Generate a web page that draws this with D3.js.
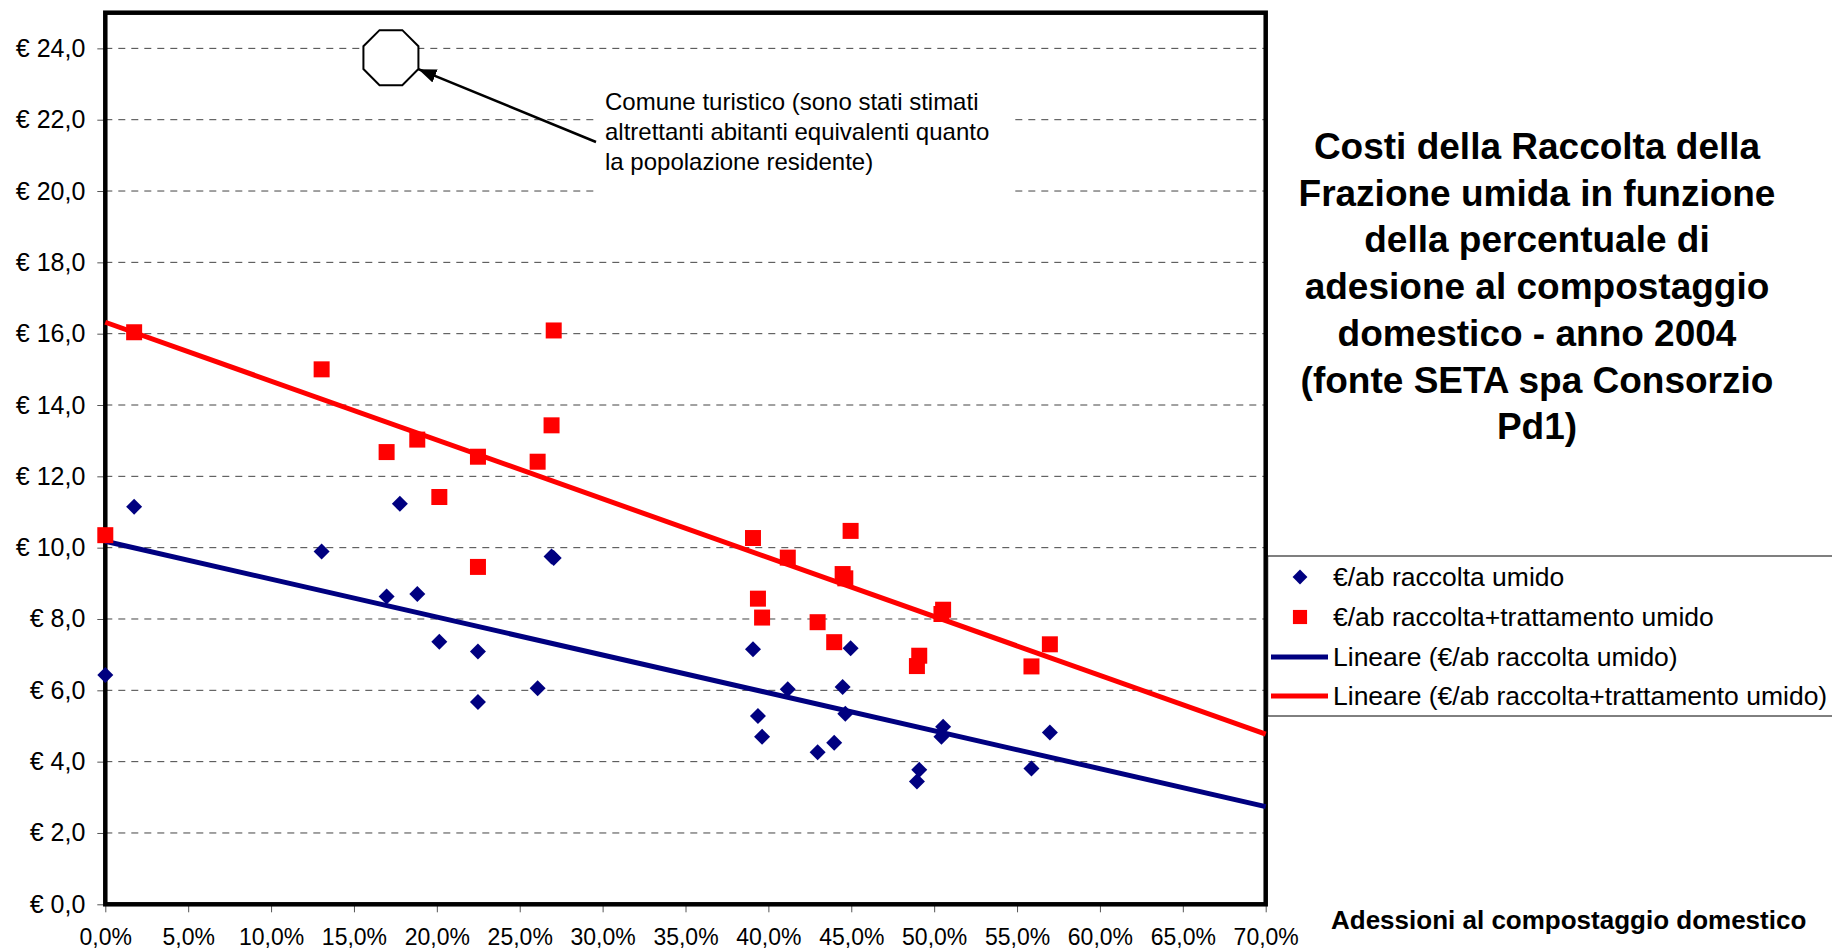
<!DOCTYPE html>
<meta charset="utf-8">
<style>
body { margin: 0; background: #fff; }
svg { display: block; font-family: "Liberation Sans", Arial, sans-serif; }
</style>
<svg width="1832" height="950"></svg>
<script src="https://d3js.org/d3.v7.min.js"></script>
<script>

// adesione al compostaggio domestico (quota) per comune
var adesioni = [0.000, 0.0174, 0.1305, 0.1697, 0.1777, 0.1882, 0.2015, 0.2248, 0.2248, 0.2608,
                0.2692, 0.2705, 0.3907, 0.3937, 0.3962, 0.4117, 0.4297, 0.4397, 0.4448, 0.4464,
                0.4496, 0.4896, 0.4910, 0.5044, 0.5054, 0.5587, 0.5698];

// €/ab raccolta umido
var raccolta = [6.43, 11.15, 9.89, 8.63, 11.23, 8.70, 7.36, 7.09, 5.67, 6.06,
                9.75, 9.71, 7.15, 5.28, 4.70, 6.03, 4.26, 4.53, 6.09, 5.34,
                7.18, 3.44, 3.77, 4.70, 4.98, 3.81, 4.82];

// €/ab raccolta+trattamento umido (comune turistico fuori scala)
var raccoltaTrattamento = [10.35, 16.04, 15.00, 12.68, null, 13.03, 11.42, 12.55, 9.46, 12.41,
                           13.43, 16.09, 10.27, 8.57, 8.04, 9.72, 7.91, 7.35, 9.26, 9.14,
                           10.47, 6.68, 6.97, 8.14, 8.26, 6.67, 7.29];

// linee di tendenza lineari: valore a 0% e a 70%
var trendX = [0, 0.7];
var trendRaccolta = [10.18, 2.74];
var trendTotale = [16.32, 4.77];

var xTicks = [0, 0.05, 0.10, 0.15, 0.20, 0.25, 0.30, 0.35, 0.40, 0.45, 0.50, 0.55, 0.60, 0.65, 0.70];
var yTicks = [0, 2, 4, 6, 8, 10, 12, 14, 16, 18, 20, 22, 24];

var titolo = ["Costi della Raccolta della", "Frazione umida in funzione", "della percentuale di",
              "adesione al compostaggio", "domestico - anno 2004", "(fonte SETA spa Consorzio", "Pd1)"];
var titoloAsseX = "Adessioni al compostaggio domestico";
var nota = ["Comune turistico (sono stati stimati", "altrettanti abitanti equivalenti quanto",
            "la popolazione residente)"];
var notaPunto = [0.1723, 23.74];

var legenda = ["€/ab raccolta umido", "€/ab raccolta+trattamento umido",
               "Lineare (€/ab raccolta umido)", "Lineare (€/ab raccolta+trattamento umido)"];

var blu = "#000080", rosso = "#ff0000";

var it = d3.formatLocale({decimal: ",", thousands: ".", grouping: [3], currency: ["€ ", ""]});

var plotLeft = 105.3, plotRight = 1265.7, plotTop = 12.7, plotBottom = 904.3;

var x = d3.scaleLinear().domain([0, 0.7]).range([plotLeft, plotRight]);
var y = d3.scaleLinear().domain([0, 25]).range([plotBottom, plotTop]);

var svg = d3.select("svg");

// griglia tratteggiata
svg.append("g")
  .selectAll("line")
  .data(yTicks.filter(function(d) { return d > 0; }))
  .enter().append("line")
    .attr("x1", plotLeft)
    .attr("x2", plotRight)
    .attr("y1", function(d) { return y(d); })
    .attr("y2", function(d) { return y(d); })
    .attr("stroke", "#444")
    .attr("stroke-width", 1)
    .attr("stroke-dasharray", "7,6");

// nota: box bianco sopra la griglia
var boxX = 596, boxY = 80;
svg.append("rect")
    .attr("x", boxX).attr("y", boxY)
    .attr("width", 418).attr("height", 120)
    .attr("fill", "#fff");

// assi
var yAxis = svg.append("g")
    .attr("transform", "translate(" + plotLeft + ",0)")
    .call(d3.axisLeft(y).tickValues(yTicks).tickSize(8).tickPadding(12)
      .tickFormat(function(d) { return it.format("$.1f")(d); }));

var xAxis = svg.append("g")
    .attr("transform", "translate(0," + plotBottom + ")")
    .call(d3.axisBottom(x).tickValues(xTicks).tickSize(8).tickPadding(16)
      .tickFormat(it.format(".1%")));

[yAxis, xAxis].forEach(function(a) {
  a.select(".domain").remove();
  a.selectAll(".tick line").attr("stroke", "#555");
  a.selectAll("text").attr("fill", "#000").attr("font-family", "Liberation Sans, Arial, sans-serif");
});
yAxis.selectAll("text").attr("font-size", 25);
xAxis.selectAll("text").attr("font-size", 23);

// cornice area del grafico
svg.append("rect")
    .attr("x", plotLeft).attr("y", plotTop)
    .attr("width", plotRight - plotLeft).attr("height", plotBottom - plotTop)
    .attr("fill", "none")
    .attr("stroke", "#000")
    .attr("stroke-width", 4.5);

// linee di tendenza
var line = d3.line()
    .x(function(d) { return x(d[0]); })
    .y(function(d) { return y(d[1]); });

svg.append("path")
    .datum(d3.zip(trendX, trendRaccolta))
    .attr("d", line)
    .attr("fill", "none")
    .attr("stroke", blu)
    .attr("stroke-width", 5);

svg.append("path")
    .datum(d3.zip(trendX, trendTotale))
    .attr("d", line)
    .attr("fill", "none")
    .attr("stroke", rosso)
    .attr("stroke-width", 5);

// punti
var diamond = d3.symbol(d3.symbolSquare, 128),
    square = d3.symbol(d3.symbolSquare, 256);

svg.append("g")
  .selectAll("path")
  .data(d3.zip(adesioni, raccolta))
  .enter().append("path")
    .attr("d", diamond)
    .attr("transform", function(d) { return "translate(" + x(d[0]) + "," + y(d[1]) + ") rotate(45)"; })
    .attr("fill", blu);

svg.append("g")
  .selectAll("path")
  .data(d3.zip(adesioni, raccoltaTrattamento).filter(function(d) { return d[1] != null; }))
  .enter().append("path")
    .attr("d", square)
    .attr("transform", function(d) { return "translate(" + x(d[0]) + "," + y(d[1]) + ")"; })
    .attr("fill", rosso);

// ottagono e freccia del comune turistico
var cx = x(notaPunto[0]), cy = y(notaPunto[1]), r = 27.5 / Math.cos(Math.PI / 8);
var ottagono = d3.range(8).map(function(i) {
  var a = Math.PI / 8 + i * Math.PI / 4;
  return [cx + r * Math.cos(a), cy + r * Math.sin(a)];
});
svg.append("path")
    .attr("d", "M" + ottagono.join("L") + "Z")
    .attr("fill", "#fff")
    .attr("stroke", "#000")
    .attr("stroke-width", 2);

svg.append("defs").append("marker")
    .attr("id", "punta")
    .attr("viewBox", "0 0 18 14")
    .attr("refX", 18).attr("refY", 7)
    .attr("markerWidth", 18).attr("markerHeight", 14)
    .attr("markerUnits", "userSpaceOnUse")
    .attr("orient", "auto")
  .append("path")
    .attr("d", "M0,0L18,7L0,14Z")
    .attr("fill", "#000");

svg.append("line")
    .attr("x1", boxX).attr("y1", 142)
    .attr("x2", cx + 27.5).attr("y2", cy + 11.5)
    .attr("stroke", "#000")
    .attr("stroke-width", 2.5)
    .attr("marker-end", "url(#punta)");

svg.append("g")
  .selectAll("text")
  .data(nota)
  .enter().append("text")
    .attr("x", 605)
    .attr("y", function(d, i) { return 110 + i * 30; })
    .attr("font-size", 24)
    .text(function(d) { return d; });

// titolo
svg.append("text")
    .attr("text-anchor", "middle")
    .attr("font-weight", "bold")
    .attr("font-size", 37)
  .selectAll("tspan")
  .data(titolo)
  .enter().append("tspan")
    .attr("x", 1537)
    .attr("y", function(d, i) { return 159 + i * 46.7; })
    .text(function(d) { return d; });

svg.append("text")
    .attr("x", 1331)
    .attr("y", 929)
    .attr("font-weight", "bold")
    .attr("font-size", 26)
    .text(titoloAsseX);

// legenda
var leg = svg.append("g");
leg.append("rect")
    .attr("x", plotRight + 2).attr("y", 556)
    .attr("width", 1832 - plotRight).attr("height", 160)
    .attr("fill", "#fff")
    .attr("stroke", "#000")
    .attr("stroke-width", 1);

var righe = [577, 617, 657, 696];
leg.append("path")
    .attr("d", d3.symbol(d3.symbolSquare, 110))
    .attr("transform", "translate(1300," + righe[0] + ") rotate(45)")
    .attr("fill", blu);
leg.append("path")
    .attr("d", d3.symbol(d3.symbolSquare, 200))
    .attr("transform", "translate(1300," + righe[1] + ")")
    .attr("fill", rosso);
[blu, rosso].forEach(function(c, i) {
  leg.append("line")
      .attr("x1", 1271).attr("x2", 1328)
      .attr("y1", righe[i + 2]).attr("y2", righe[i + 2])
      .attr("stroke", c)
      .attr("stroke-width", 5);
});
leg.selectAll("text")
  .data(legenda)
  .enter().append("text")
    .attr("x", 1333)
    .attr("y", function(d, i) { return righe[i]; })
    .attr("dy", "0.35em")
    .attr("font-size", 26.5)
    .text(function(d) { return d; });

</script>
